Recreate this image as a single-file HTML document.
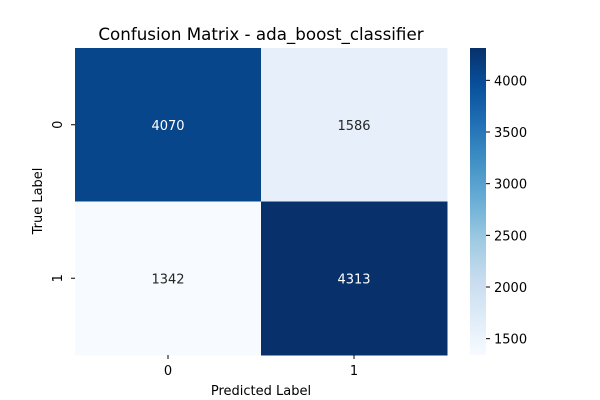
<!DOCTYPE html>
<html><head><meta charset="utf-8"><style>
body{margin:0;background:#fff}
svg{display:block;font-family:"DejaVu Sans","Liberation Sans",sans-serif}
</style></head><body>
<svg id="chart" width="600" height="400">
<defs><linearGradient id="cbg" x1="0" y1="1" x2="0" y2="0">
<stop offset="0" stop-color="#f7fbff"/><stop offset="0.125" stop-color="#deebf7"/><stop offset="0.25" stop-color="#c6dbef"/><stop offset="0.375" stop-color="#9ecae1"/><stop offset="0.5" stop-color="#6baed6"/><stop offset="0.625" stop-color="#4292c6"/><stop offset="0.75" stop-color="#2171b5"/><stop offset="0.875" stop-color="#08519c"/><stop offset="1" stop-color="#08306b"/>
</linearGradient></defs>
<text x="261" y="40" text-anchor="middle" font-size="16.7">Confusion Matrix - ada_boost_classifier</text>
<g id="cells"></g>
<rect x="470" y="48" width="16" height="307" fill="url(#cbg)"/>
<g id="cbticks"></g>
<text x="261" y="395" text-anchor="middle" font-size="13">Predicted Label</text>
<text transform="translate(42,201) rotate(-90)" text-anchor="middle" font-size="13">True Label</text>
</svg>
<script>
const classes=["0","1"];
const row0=[4070,1586];
const row1=[1342,4313];
const cbTicks=[1500,2000,2500,3000,3500,4000];
const matrix=[row0,row1];
const NS="http://www.w3.org/2000/svg";
const x0=75,y0=48,W=372,H=307;
const all=matrix.flat();const vmin=Math.min(...all),vmax=Math.max(...all);
const stops=["#f7fbff","#deebf7","#c6dbef","#9ecae1","#6baed6","#4292c6","#2171b5","#08519c","#08306b"];
function hex(h){return[1,3,5].map(i=>parseInt(h.substr(i,2),16));}
function color(v){let t=(v-vmin)/(vmax-vmin);t=Math.max(0,Math.min(1,t));const p=t*8,i=Math.min(7,Math.floor(p)),f=p-i;const a=hex(stops[i]),b=hex(stops[i+1]);return`rgb(${a.map((c,k)=>Math.round(c+(b[k]-c)*f)).join(",")})`;}
function mk(tag,attrs,parent){const e=document.createElementNS(NS,tag);for(const k in attrs)e.setAttribute(k,attrs[k]);parent.appendChild(e);return e;}
const svg=document.getElementById("chart");
const g=document.getElementById("cells");
const n=classes.length,cw=W/n,ch=H/n;
matrix.forEach((row,r)=>row.forEach((v,c)=>{
 const rc=mk("rect",{x:x0+c*cw,y:y0+r*ch,width:cw+0.5,height:ch+0.5,fill:color(v)},g);
 
 
 const t=mk("text",{x:x0+(c+0.5)*cw,y:y0+(r+0.5)*ch+5,"text-anchor":"middle","font-size":"13",fill:(v-vmin)/(vmax-vmin)>0.5?"#fff":"#262626"},g);
 t.textContent=v;
 
 
}));
classes.forEach((cl,i)=>{
 const xc=x0+(i+0.5)*cw;
 mk("line",{x1:xc,x2:xc,y1:355,y2:359,stroke:"#000"},svg);
 const t=mk("text",{x:xc,y:375,"text-anchor":"middle","font-size":"13"},svg);t.textContent=cl;
 
 
 const yc=y0+(i+0.5)*ch;
 mk("line",{x1:71,x2:75,y1:yc,y2:yc,stroke:"#000"},svg);
 const t2=mk("text",{transform:`translate(62,${yc}) rotate(-90)`,"text-anchor":"middle","font-size":"13"},svg);t2.textContent=cl;
 
 
});
const cb=document.getElementById("cbticks");
cbTicks.forEach(v=>{
 const y=355-(v-vmin)/(vmax-vmin)*307;
 mk("line",{x1:486,x2:490,y1:y,y2:y,stroke:"#000"},cb);
 const t=mk("text",{x:494,y:y+5,"font-size":"13"},cb);t.textContent=v;
 
 
});
</script>
</body></html>
